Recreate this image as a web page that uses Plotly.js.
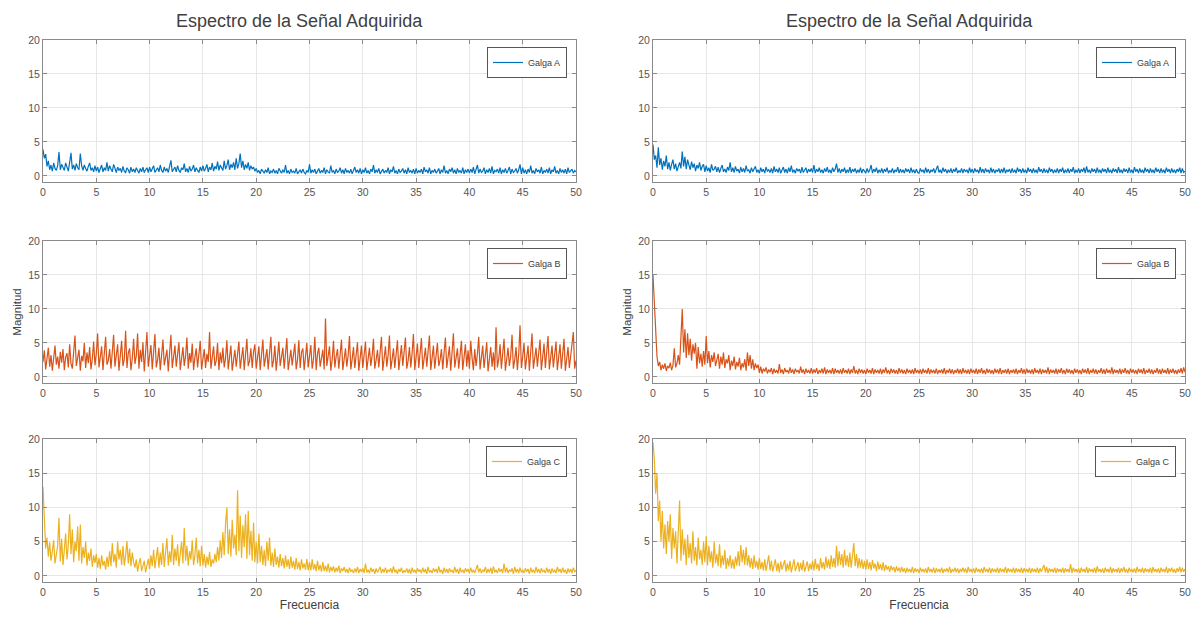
<!DOCTYPE html>
<html>
<head>
<meta charset="utf-8">
<script src="https://cdn.plot.ly/plotly-3.0.1.min.js"></script>
<style>
  html, body { margin: 0; padding: 0; background: #ffffff; }
  #chart { width: 1199px; height: 622px; }
</style>
</head>
<body>
<div id="chart"></div>
<script>
// Spectrum magnitude per strain gauge, 0 to 50 Hz, one value every 0.125 Hz.
const fMax = 50;

// Left column: Galga A / B / C
const gaugeA_left = [
  3.9, 2.6, 3.2, 1.4, 2.2, 0.9, 1.6, 0.7, 1.9, 1.1, 0.8, 1.5, 3.5, 0.9, 1.7, 1.2, 0.8, 1.9, 1.3, 0.7,
  2.0, 3.4, 1.0, 1.6, 0.8, 1.8, 1.2, 0.9, 3.3, 1.5, 0.8, 1.6, 1.1, 0.7, 1.4, 1.9, 0.8, 1.2, 0.6, 1.5,
  0.7, 1.3, 0.5, 1.1, 1.6, 0.6, 1.2, 0.8, 2.0, 0.7, 1.5, 1.0, 0.6, 1.7, 0.9, 0.5, 1.3, 0.8, 1.1, 0.5,
  1.4, 0.7, 0.5, 1.2, 0.9, 0.4, 1.3, 0.6, 1.0, 0.5, 1.2, 0.8, 0.4, 1.1, 0.6, 1.3, 0.5, 0.9, 1.2, 0.5,
  1.3, 0.6, 1.0, 1.5, 0.5, 0.9, 1.2, 0.6, 1.6, 0.8, 0.5, 1.3, 0.7, 1.1, 0.5, 1.4, 2.3, 0.6, 1.0, 1.3,
  0.6, 1.5, 0.8, 0.5, 1.2, 0.9, 1.8, 0.6, 1.1, 0.5, 1.4, 0.7, 1.0, 1.6, 0.6, 1.2, 0.8, 0.5, 1.3, 0.7,
  1.5, 0.7, 1.1, 1.7, 0.6, 1.3, 0.9, 1.9, 0.7, 1.4, 1.0, 2.1, 0.8, 1.6, 1.2, 0.8, 2.2, 1.0, 1.5, 2.4,
  0.9, 1.7, 1.2, 2.0, 0.9, 2.6, 1.1, 1.8, 3.3, 1.2, 2.2, 0.9, 1.7, 1.1, 2.0, 0.8, 1.5, 1.0, 1.3, 0.7,
  1.1, 0.5, 0.8, 0.3, 1.0, 0.6, 0.4, 0.9, 0.5, 1.2, 0.3, 0.7, 0.5, 1.0, 0.4, 0.8, 0.3, 1.1, 0.6, 0.4,
  0.9, 0.5, 1.6, 0.4, 0.8, 0.3, 1.0, 0.5, 0.7, 0.4, 1.1, 0.3, 0.6, 0.9, 0.4, 1.0, 0.5, 0.3, 0.8, 0.5,
  1.7, 0.4, 0.9, 0.5, 1.0, 0.3, 0.7, 1.1, 0.4, 0.8, 0.5, 1.2, 0.3, 0.9, 0.6, 0.4, 1.5, 0.5, 0.8, 0.3,
  1.0, 0.5, 0.7, 1.2, 0.4, 0.9, 0.3, 1.1, 0.5, 0.8, 0.4, 1.0, 0.3, 0.7, 1.3, 0.5, 0.9, 0.4, 1.1, 0.3,
  0.9, 0.5, 1.2, 0.4, 0.8, 0.3, 1.0, 0.6, 1.6, 0.4, 0.9, 0.5, 1.1, 0.3, 0.7, 1.0, 0.4, 0.8, 0.5, 1.2,
  0.3, 0.9, 0.6, 1.4, 0.4, 0.8, 0.3, 1.0, 0.5, 0.7, 1.1, 0.4, 0.9, 0.3, 1.2, 0.5, 0.8, 0.4, 1.0, 0.3,
  1.1, 0.4, 0.8, 0.5, 1.0, 0.3, 1.3, 0.6, 0.9, 0.4, 1.2, 0.3, 0.8, 0.5, 1.0, 0.4, 0.7, 1.1, 0.3, 0.9,
  0.5, 1.5, 0.4, 0.8, 0.3, 1.0, 0.6, 1.2, 0.4, 0.9, 0.3, 1.1, 0.5, 0.8, 0.4, 1.2, 0.3, 0.9, 0.5, 1.0,
  0.4, 1.0, 0.5, 1.3, 0.3, 0.8, 1.6, 0.4, 1.0, 0.5, 0.7, 1.2, 0.3, 0.9, 0.5, 1.1, 0.4, 1.4, 0.3, 0.8,
  0.6, 1.0, 0.4, 1.2, 0.3, 0.9, 0.5, 1.1, 0.4, 0.8, 1.3, 0.3, 1.0, 0.5, 0.7, 1.1, 0.4, 0.9, 1.7, 0.3,
  1.2, 0.4, 0.9, 0.3, 1.0, 0.5, 1.5, 0.4, 0.8, 0.3, 1.1, 0.6, 0.9, 0.4, 1.3, 0.3, 0.8, 0.5, 1.0, 0.4,
  1.2, 0.3, 0.9, 0.6, 1.4, 0.4, 0.8, 0.3, 1.1, 0.5, 0.9, 0.4, 1.0, 0.3, 1.2, 0.5, 0.7, 1.0, 0.4, 0.8,
  0.6
];
const gaugeB_left = [
  2.2, 3.9, 1.1, 2.8, 4.3, 1.5, 3.2, 0.9, 2.5, 4.6, 1.8, 3.0, 1.2, 3.7, 2.1, 4.1, 1.0, 2.9, 3.5, 1.4,
  4.8, 2.0, 1.2, 3.3, 6.1, 1.6, 2.7, 4.0, 0.9, 3.1, 2.3, 5.0, 1.3, 3.6, 2.0, 4.4, 1.1, 2.6, 5.2, 1.7,
  3.4, 6.4, 1.4, 2.8, 4.5, 1.0, 3.2, 5.9, 1.8, 2.4, 4.1, 1.2, 3.7, 6.2, 1.5, 2.9, 4.8, 0.9, 3.0, 5.3,
  1.6, 2.6, 6.8, 1.3, 3.5, 4.2, 1.0, 2.7, 5.6, 1.9, 3.1, 6.4, 1.2, 4.0, 2.2, 5.1, 0.8, 3.3, 6.6, 1.5,
  2.9, 4.7, 1.1, 3.6, 6.3, 1.4, 2.5, 4.3, 1.0, 3.2, 5.5, 1.7, 2.8, 4.0, 0.8, 3.4, 6.2, 1.3, 2.6, 4.6,
  1.5, 3.9, 5.1, 1.0, 2.7, 4.4, 1.6, 3.1, 5.8, 1.2, 3.5, 2.1, 4.9, 1.0, 2.9, 4.2, 1.4, 3.3, 5.3, 1.1,
  2.6, 4.1, 1.3, 3.4, 2.2, 6.6, 1.2, 3.0, 4.5, 1.6, 2.4, 5.0, 1.0, 3.6, 2.0, 4.3, 1.4, 2.8, 5.4, 1.1,
  3.2, 4.6, 0.9, 2.7, 4.0, 1.5, 3.5, 5.2, 1.2, 2.5, 4.4, 1.0, 3.1, 5.6, 1.6, 2.3, 4.2, 1.3, 3.7, 4.8,
  1.2, 2.9, 4.5, 1.0, 3.3, 5.5, 1.5, 2.6, 4.1, 1.1, 3.8, 5.9, 1.4, 2.4, 4.6, 0.9, 3.0, 5.2, 1.6, 2.8,
  4.3, 1.2, 3.5, 5.7, 1.0, 2.7, 4.0, 1.7, 3.2, 4.9, 1.1, 2.5, 5.4, 1.3, 3.6, 4.2, 1.0, 2.9, 5.0, 1.4,
  3.1, 4.7, 1.2, 2.6, 5.9, 1.0, 3.4, 4.3, 1.5, 2.8, 4.0, 1.1, 8.6, 1.6, 3.3, 4.5, 0.9, 2.5, 5.3, 1.4,
  3.0, 4.1, 1.2, 3.6, 5.5, 1.0, 2.7, 4.2, 1.5, 3.2, 6.0, 1.1, 2.6, 4.4, 1.3, 3.5, 5.1, 0.9, 2.9, 4.6,
  1.3, 3.4, 5.2, 1.0, 2.7, 4.3, 1.6, 3.1, 5.6, 1.2, 2.5, 4.0, 1.4, 3.6, 5.9, 0.9, 2.8, 4.5, 1.5, 3.2,
  6.1, 1.1, 2.6, 4.2, 1.3, 3.7, 5.4, 1.0, 2.9, 4.7, 1.6, 3.3, 5.8, 1.2, 2.4, 4.4, 1.4, 3.5, 6.3, 1.0,
  2.7, 4.9, 1.3, 3.4, 5.7, 1.1, 2.6, 4.3, 1.5, 3.8, 6.1, 1.0, 2.9, 4.6, 1.2, 3.2, 5.0, 1.6, 2.5, 4.1,
  1.1, 3.6, 5.8, 1.3, 2.8, 4.5, 0.9, 3.3, 6.4, 1.4, 2.7, 4.2, 1.2, 3.5, 5.3, 1.0, 2.6, 4.8, 1.5, 3.9,
  1.2, 5.3, 2.8, 1.0, 4.1, 1.6, 3.4, 5.9, 1.1, 2.7, 4.6, 1.3, 3.2, 5.1, 0.8, 2.9, 4.4, 1.5, 3.6, 1.0,
  7.3, 1.4, 2.6, 4.8, 1.2, 3.5, 5.6, 0.9, 2.8, 4.3, 1.6, 3.1, 6.2, 1.2, 2.5, 4.4, 1.0, 3.3, 7.6, 1.3,
  3.0, 5.0, 1.1, 2.7, 4.6, 0.9, 3.4, 6.4, 1.2, 2.6, 4.3, 1.5, 3.2, 5.5, 1.0, 2.8, 4.9, 1.3, 3.6, 6.0,
  1.1, 2.5, 4.6, 1.4, 3.1, 5.2, 1.0, 2.9, 4.8, 1.2, 3.5, 5.6, 0.9, 2.7, 4.4, 1.3, 3.3, 5.1, 6.6, 1.2,
  2.4
];
const gaugeC_left = [
  13.0, 9.5, 4.0, 5.6, 2.8, 4.9, 2.2, 3.6, 5.2, 1.8, 3.0, 4.4, 8.5, 2.1, 5.4, 1.6, 3.8, 6.2, 2.4, 4.6,
  9.0, 3.2, 6.8, 2.0, 5.0, 3.6, 7.2, 2.2, 7.5, 1.8, 4.2, 2.6, 5.0, 1.5, 3.4, 2.2, 4.0, 1.3, 3.0, 1.9,
  3.2, 1.2, 2.6, 1.0, 3.0, 1.5, 2.2, 0.9, 2.8, 1.3, 3.6, 1.4, 4.8, 2.0, 3.2, 1.2, 5.0, 2.4, 3.8, 1.6,
  4.4, 1.5, 3.0, 5.1, 1.8, 4.0, 1.4, 3.4, 2.0, 1.2, 2.4, 0.6, 1.8, 2.6, 0.7, 1.4, 2.2, 0.5, 1.6, 2.5,
  1.0, 3.0, 1.4, 3.8, 1.1, 2.6, 4.2, 1.2, 3.4, 1.6, 4.8, 1.3, 3.0, 5.5, 1.5, 3.6, 2.0, 6.0, 1.6, 4.0,
  2.2, 4.6, 1.4, 3.2, 5.0, 1.8, 7.0, 2.2, 4.4, 1.5, 3.6, 2.4, 5.2, 1.6, 3.0, 5.6, 1.8, 3.8, 1.4, 4.4,
  1.5, 3.2, 1.2, 2.8, 1.6, 3.5, 1.3, 2.4, 1.8, 3.2, 2.0, 4.2, 2.2, 5.2, 2.6, 6.4, 3.0, 7.6, 10.0, 3.2,
  6.8, 2.8, 8.2, 4.0, 6.0, 3.0, 12.5, 3.6, 8.8, 2.6, 7.4, 4.2, 9.0, 2.5, 9.5, 3.0, 6.6, 2.2, 7.8, 2.0,
  5.0, 1.8, 6.2, 2.0, 4.4, 1.6, 3.8, 1.4, 5.0, 2.2, 5.6, 1.5, 3.4, 1.3, 4.0, 1.6, 2.8, 1.2, 3.2, 1.4,
  2.6, 1.1, 3.0, 1.3, 2.4, 1.0, 2.8, 1.2, 2.2, 0.9, 2.6, 1.0, 2.0, 0.8, 2.4, 1.1, 1.8, 0.9, 2.5, 0.8,
  2.0, 0.8, 2.4, 0.9, 1.7, 0.7, 2.2, 0.8, 1.6, 0.6, 2.0, 0.7, 1.5, 0.6, 1.8, 0.5, 1.3, 0.7, 1.4, 0.5,
  1.2, 0.6, 1.5, 0.4, 1.1, 0.7, 1.3, 0.5, 1.0, 0.4, 1.2, 0.6, 0.9, 0.4, 1.1, 0.5, 1.3, 0.4, 1.0, 0.6,
  1.1, 0.4, 1.8, 0.5, 0.9, 0.4, 1.2, 0.6, 1.0, 0.3, 1.1, 0.5, 0.8, 1.3, 0.4, 1.0, 0.5, 1.2, 0.4, 0.9,
  0.6, 1.1, 0.4, 1.4, 0.5, 0.9, 0.3, 1.0, 0.6, 1.2, 0.4, 0.8, 0.5, 1.1, 0.4, 1.0, 0.3, 1.2, 0.5, 0.9,
  0.4, 1.1, 0.6, 0.9, 0.4, 1.2, 0.5, 1.0, 0.3, 1.3, 0.5, 0.8, 0.4, 1.1, 0.6, 1.0, 0.4, 1.4, 0.5, 0.9,
  0.3, 1.2, 0.5, 1.0, 0.4, 1.1, 0.6, 0.8, 0.4, 1.3, 0.5, 1.0, 0.3, 1.2, 0.5, 0.9, 0.4, 1.1, 0.6, 1.0,
  0.4, 1.2, 0.5, 0.9, 0.4, 1.0, 1.6, 0.5, 1.1, 0.4, 0.9, 0.6, 1.3, 0.4, 1.0, 0.5, 1.2, 0.3, 1.4, 0.5,
  0.9, 0.4, 1.1, 0.6, 1.0, 0.4, 1.8, 0.5, 1.2, 0.4, 0.9, 0.6, 1.1, 0.3, 1.3, 0.5, 1.0, 0.4, 1.2, 0.5,
  0.9, 0.4, 1.1, 0.6, 1.0, 0.3, 1.2, 0.5, 0.9, 0.4, 1.3, 0.5, 1.0, 0.4, 1.1, 0.6, 0.8, 0.4, 1.2, 0.5,
  1.0, 0.3, 1.1, 0.5, 0.9, 0.4, 1.3, 0.6, 1.0, 0.4, 1.2, 0.5, 0.9, 0.3, 1.1, 0.5, 1.0, 0.4, 1.2, 0.6,
  0.8
];

// Right column: Galga A / B / C
const gaugeA_right = [
  4.6, 2.4, 3.0, 1.2, 4.2, 1.6, 2.6, 0.9, 2.2, 1.4, 3.0, 1.0, 2.0, 0.8, 1.7, 2.4, 1.0, 1.8, 0.7, 1.5,
  2.0, 1.1, 3.6, 1.4, 2.8, 1.0, 2.4, 1.6, 0.9, 2.1, 1.2, 1.8, 0.7, 1.6, 1.1, 2.0, 0.8, 1.4, 1.7, 0.6,
  1.5, 0.7, 1.2, 0.5, 1.7, 0.8, 1.0, 1.4, 0.6, 1.3, 0.5, 1.1, 1.6, 0.6, 1.0, 0.5, 1.3, 0.8, 2.0, 0.6,
  1.2, 0.5, 1.4, 0.7, 1.0, 0.4, 1.3, 0.6, 1.1, 0.5, 1.5, 0.7, 0.9, 0.4, 1.2, 0.6, 1.0, 1.4, 0.5, 0.9,
  0.4, 1.2, 0.6, 1.0, 0.4, 1.3, 0.7, 0.9, 0.5, 1.1, 0.4, 1.4, 0.6, 1.0, 0.5, 1.2, 0.4, 0.9, 1.3, 0.5,
  1.0, 0.4, 1.2, 0.6, 1.5, 0.5, 0.9, 0.4, 1.1, 0.7, 1.0, 0.4, 1.3, 0.5, 0.9, 1.2, 0.4, 1.0, 0.6, 1.1,
  0.5, 1.6, 0.4, 1.0, 0.6, 1.2, 0.5, 0.9, 0.4, 1.1, 0.6, 1.3, 0.5, 0.9, 0.4, 1.2, 0.6, 1.0, 1.8, 0.5,
  1.1, 0.4, 1.0, 0.6, 1.2, 0.4, 0.9, 0.5, 1.3, 0.4, 1.0, 0.6, 1.1, 0.4, 0.9, 0.5, 1.2, 0.4, 1.0, 0.6,
  0.4, 1.1, 0.5, 0.9, 1.6, 0.4, 1.0, 0.6, 1.2, 0.4, 0.9, 0.5, 1.1, 0.4, 1.0, 0.6, 1.2, 0.4, 0.8, 0.5,
  1.1, 0.4, 0.9, 0.6, 1.3, 0.4, 1.0, 0.5, 0.9, 0.4, 1.1, 0.6, 1.0, 0.4, 1.2, 0.5, 0.9, 0.4, 1.0, 0.5,
  0.4, 1.1, 0.6, 0.9, 0.4, 1.2, 0.5, 1.0, 0.4, 0.9, 0.6, 1.1, 0.4, 1.0, 1.5, 0.5, 0.9, 0.4, 1.2, 0.6,
  1.0, 0.4, 0.9, 0.5, 1.1, 0.4, 1.0, 0.6, 1.2, 0.4, 0.8, 0.5, 1.1, 0.4, 1.0, 0.6, 0.9, 0.4, 1.2, 0.5,
  1.0, 0.4, 1.1, 0.6, 0.9, 0.4, 1.3, 0.5, 1.0, 0.4, 1.1, 0.6, 0.9, 0.4, 1.2, 0.5, 1.0, 0.4, 0.9, 0.6,
  1.1, 0.4, 1.0, 0.5, 1.2, 0.4, 0.9, 0.6, 1.0, 0.4, 1.1, 0.5, 0.9, 0.4, 1.2, 0.6, 1.0, 0.4, 1.1, 0.5,
  0.9, 0.4, 1.2, 0.6, 1.0, 0.4, 1.1, 0.5, 0.9, 0.4, 1.3, 0.6, 1.0, 0.4, 1.1, 0.5, 0.9, 0.4, 1.2, 0.6,
  1.0, 0.4, 0.9, 0.5, 1.1, 0.4, 1.0, 0.6, 1.2, 0.4, 0.9, 0.5, 1.1, 0.4, 1.0, 0.6, 1.3, 0.4, 0.9, 0.5,
  1.1, 0.4, 1.0, 0.6, 1.2, 0.4, 1.4, 0.5, 0.9, 0.4, 1.1, 0.6, 1.0, 0.4, 1.2, 0.5, 0.9, 0.4, 1.1, 0.6,
  1.0, 0.4, 1.2, 0.5, 0.9, 0.4, 1.1, 0.6, 1.0, 0.4, 1.3, 0.5, 0.9, 0.4, 1.1, 0.6, 1.0, 0.4, 1.2, 0.5,
  0.9, 0.4, 1.3, 0.6, 1.0, 0.4, 1.1, 0.5, 0.9, 0.4, 1.2, 0.6, 1.0, 0.4, 1.1, 0.5, 0.9, 0.4, 1.2, 0.6,
  1.0, 0.4, 1.1, 0.5, 0.9, 0.4, 1.2, 0.6, 1.0, 0.4, 1.1, 0.5, 0.9, 0.4, 1.0, 0.6, 1.2, 0.4, 1.1, 0.5,
  0.7
];
const gaugeB_right = [
  15.0, 11.0, 6.5, 3.0, 1.6, 2.2, 1.0, 1.8, 1.2, 2.0, 0.9, 1.6, 1.3, 2.1, 1.0, 1.7, 4.2, 1.4, 2.0, 3.2,
  1.8, 5.5, 10.0, 3.6, 7.0, 2.8, 6.4, 3.2, 5.6, 2.4, 4.8, 3.4, 5.0, 1.2, 4.4, 2.0, 3.4, 1.5, 3.8, 1.8,
  6.0, 2.0, 3.8, 1.4, 3.2, 2.2, 3.6, 1.6, 2.8, 3.4, 1.2, 3.0, 1.8, 3.6, 1.3, 2.6, 2.0, 3.2, 1.0, 2.4,
  1.6, 3.0, 1.1, 2.2, 1.5, 2.8, 1.0, 2.0, 1.4, 2.6, 0.9, 3.6, 1.6, 3.2, 1.2, 2.6, 1.0, 2.0, 1.3, 1.8,
  0.6, 1.5, 0.5, 1.2, 0.8, 1.4, 0.5, 1.1, 0.7, 1.3, 0.4, 1.2, 0.6, 1.0, 0.5, 1.9, 0.6, 1.1, 0.4, 1.3,
  0.7, 1.0, 0.5, 1.4, 0.6, 1.1, 0.4, 1.2, 0.7, 1.0, 0.5, 1.5, 0.6, 1.1, 0.4, 1.2, 0.6, 1.0, 0.5, 1.3,
  0.5, 1.1, 0.6, 1.3, 0.4, 1.0, 0.6, 1.2, 0.5, 1.4, 0.4, 1.1, 0.6, 1.0, 0.5, 1.3, 0.4, 1.2, 0.6, 1.0,
  0.5, 1.1, 0.4, 1.3, 0.6, 1.0, 0.5, 1.2, 0.4, 1.1, 0.6, 1.6, 0.5, 1.0, 0.4, 1.2, 0.6, 1.1, 0.5, 1.0,
  0.4, 1.2, 0.6, 1.0, 0.5, 1.3, 0.4, 1.1, 0.6, 1.0, 0.5, 1.2, 0.4, 1.1, 0.6, 1.4, 0.5, 1.0, 0.4, 1.2,
  0.6, 1.1, 0.5, 1.0, 0.4, 1.3, 0.6, 1.1, 0.5, 1.0, 0.4, 1.2, 0.6, 1.0, 0.5, 1.1, 0.4, 1.3, 0.6, 1.0,
  0.5, 1.1, 0.4, 1.2, 0.6, 1.0, 0.5, 1.3, 0.4, 1.1, 0.6, 1.0, 0.5, 1.2, 0.4, 1.0, 0.6, 1.1, 0.5, 1.3,
  0.4, 1.0, 0.6, 1.2, 0.5, 1.1, 0.4, 1.0, 0.6, 1.2, 0.5, 1.1, 0.4, 1.3, 0.6, 1.0, 0.5, 1.1, 0.4, 1.2,
  0.6, 1.0, 0.5, 1.2, 0.4, 1.1, 0.6, 1.3, 0.5, 1.0, 0.4, 1.2, 0.6, 1.1, 0.5, 1.0, 0.4, 1.2, 0.6, 1.1,
  0.5, 1.3, 0.4, 1.0, 0.6, 1.1, 0.5, 1.2, 0.4, 1.0, 0.6, 1.1, 0.5, 1.2, 0.4, 1.0, 0.6, 1.3, 0.5, 1.1,
  0.4, 1.2, 0.6, 1.0, 0.5, 1.1, 0.4, 1.3, 0.6, 1.0, 0.5, 1.2, 0.4, 1.1, 0.6, 1.0, 0.5, 1.4, 0.4, 1.1,
  0.6, 1.0, 0.5, 1.2, 0.4, 1.1, 0.6, 1.3, 0.5, 1.0, 0.4, 1.2, 0.6, 1.1, 0.5, 1.0, 0.4, 1.2, 0.6, 1.1,
  0.5, 1.0, 0.4, 1.2, 0.6, 1.1, 0.5, 1.3, 0.4, 1.0, 0.6, 1.2, 0.5, 1.1, 0.4, 1.0, 0.6, 1.3, 0.5, 1.1,
  0.4, 1.2, 0.6, 1.0, 0.5, 1.4, 0.4, 1.1, 0.6, 1.0, 0.5, 1.2, 0.4, 1.1, 0.6, 1.3, 0.5, 1.0, 0.4, 1.2,
  0.6, 1.1, 0.5, 1.0, 0.4, 1.2, 0.6, 1.1, 0.5, 1.3, 0.4, 1.0, 0.6, 1.2, 0.5, 1.1, 0.4, 1.0, 0.6, 1.3,
  0.5, 1.1, 0.4, 1.2, 0.6, 1.0, 0.5, 1.3, 0.4, 1.1, 0.6, 1.2, 0.5, 1.0, 0.4, 1.1, 0.6, 1.3, 0.5, 1.4,
  0.7
];
const gaugeC_right = [
  19.5, 17.0, 12.0, 15.0, 8.0, 11.0, 5.0, 9.5, 4.0, 7.5, 3.2, 8.0, 5.0, 9.0, 2.5, 7.0, 4.0, 6.5, 1.8, 5.5,
  11.0, 2.2, 6.8, 3.0, 5.4, 1.6, 6.0, 2.6, 4.8, 1.8, 6.5, 2.2, 4.2, 1.5, 5.6, 2.4, 3.8, 1.6, 5.0, 2.0,
  5.8, 1.5, 4.4, 2.0, 3.6, 1.2, 5.0, 1.8, 3.2, 1.4, 4.6, 1.2, 3.0, 1.6, 3.8, 1.0, 2.6, 1.4, 3.0, 1.1,
  2.4, 1.0, 2.8, 1.5, 3.6, 1.4, 4.5, 2.0, 3.8, 1.6, 4.2, 1.5, 3.0, 1.2, 2.6, 1.0, 3.0, 1.2, 2.2, 0.9,
  2.6, 1.0, 2.0, 0.8, 2.4, 0.7, 1.8, 3.0, 0.8, 2.2, 0.6, 1.6, 2.4, 0.7, 1.9, 0.5, 2.1, 0.9, 1.6, 2.3,
  0.6, 1.8, 0.8, 2.2, 0.5, 1.7, 2.4, 0.7, 1.5, 2.0, 0.6, 1.9, 0.8, 2.3, 0.6, 1.6, 2.1, 0.7, 1.8, 0.9,
  2.2, 0.8, 2.5, 1.0, 1.8, 0.7, 2.6, 1.1, 2.0, 0.9, 2.8, 1.2, 2.4, 1.0, 3.0, 1.3, 2.6, 1.2, 4.4, 1.4,
  3.6, 1.6, 3.2, 1.2, 3.8, 1.5, 3.0, 1.3, 3.4, 1.2, 2.8, 4.8, 1.4, 3.2, 1.1, 2.6, 1.2, 2.4, 1.0, 2.2,
  0.9, 2.4, 1.0, 2.0, 0.8, 2.3, 1.1, 1.8, 0.7, 2.1, 0.9, 1.7, 0.8, 2.0, 0.7, 1.6, 0.9, 1.4, 0.6, 1.5,
  0.8, 1.3, 0.5, 1.4, 0.7, 1.2, 0.5, 1.3, 0.6, 1.1, 0.4, 1.2, 0.6, 1.0, 0.5, 1.3, 0.4, 1.1, 0.6, 1.0,
  0.4, 1.2, 0.6, 1.0, 0.5, 1.1, 0.4, 1.3, 0.6, 1.0, 0.5, 1.2, 0.4, 1.1, 0.6, 1.0, 0.5, 1.2, 0.4, 1.0,
  0.6, 1.1, 0.5, 1.3, 0.4, 1.0, 0.6, 1.2, 0.5, 1.1, 0.4, 1.0, 0.6, 1.2, 0.5, 1.1, 0.4, 1.3, 0.6, 1.0,
  0.5, 1.1, 0.4, 1.2, 0.6, 1.0, 0.5, 1.1, 0.4, 1.3, 0.6, 1.0, 0.5, 1.2, 0.4, 1.1, 0.6, 1.0, 0.5, 1.2,
  0.4, 1.1, 0.6, 1.0, 0.5, 1.3, 0.4, 1.1, 0.6, 1.0, 0.5, 1.2, 0.4, 1.1, 0.6, 1.0, 0.5, 1.2, 0.4, 1.1,
  0.6, 1.0, 0.5, 1.2, 0.4, 1.1, 0.6, 1.0, 0.5, 1.2, 0.4, 1.1, 0.6, 1.0, 1.6, 0.5, 1.3, 0.4, 1.1, 0.6,
  1.0, 0.5, 1.2, 0.4, 1.1, 0.6, 1.0, 0.5, 1.2, 0.4, 1.1, 0.6, 1.0, 0.5, 1.7, 0.4, 1.2, 0.6, 1.0, 0.5,
  1.1, 0.4, 1.2, 0.6, 1.0, 0.5, 1.3, 0.4, 1.1, 0.6, 1.0, 0.5, 1.2, 0.4, 1.4, 0.6, 1.0, 0.5, 1.1, 0.4,
  1.2, 0.6, 1.0, 0.5, 1.3, 0.4, 1.1, 0.6, 1.0, 0.5, 1.2, 0.4, 1.1, 0.6, 1.3, 0.5, 1.0, 0.4, 1.2, 0.6,
  1.0, 0.5, 1.1, 0.4, 1.3, 0.6, 1.0, 0.5, 1.2, 0.4, 1.1, 0.6, 1.0, 0.5, 1.2, 0.4, 1.3, 0.6, 1.0, 0.5,
  1.1, 0.4, 1.2, 0.6, 1.0, 0.5, 1.3, 0.4, 1.1, 0.6, 1.2, 0.5, 1.0, 0.4, 1.1, 0.6, 1.3, 0.5, 1.2, 0.6,
  1.0
];

const seriesNames = ['Galga A', 'Galga B', 'Galga C'];
const seriesColors = ['#0072BD', '#D95319', '#EDB120'];
const xTicks = [0, 5, 10, 15, 20, 25, 30, 35, 40, 45, 50];
const yTicks = [0, 5, 10, 15, 20];
const panelTitle = 'Espectro de la Señal Adquirida';
const xLabel = 'Frecuencia';
const yLabel = 'Magnitud';

// Evenly spaced frequency bins spanning 0..fMax for a spectrum array
function freqAxis(values) {
  return values.map((_, i) => i * fMax / (values.length - 1));
}

// Panel order: row-major, left then right
const panels = [
  { y: gaugeA_left,  s: 0 }, { y: gaugeA_right, s: 0 },
  { y: gaugeB_left,  s: 1 }, { y: gaugeB_right, s: 1 },
  { y: gaugeC_left,  s: 2 }, { y: gaugeC_right, s: 2 }
];

const W = 1199, H = 622;
const colX = [[43, 576], [653, 1185]];
const rowY = [[40, 182], [241, 383], [439, 582]];

const FONT = 'Liberation Sans, Arial, sans-serif';
const traces = [];
const layout = {
  width: W, height: H,
  margin: { l: 0, r: 0, t: 0, b: 0 },
  paper_bgcolor: '#ffffff',
  plot_bgcolor: '#ffffff',
  font: { family: FONT, color: '#404040', size: 11 },
  annotations: [],
  showlegend: true
};

panels.forEach((p, k) => {
  const row = Math.floor(k / 2), col = k % 2;
  const n = k + 1;
  const xa = n === 1 ? 'x' : 'x' + n;
  const ya = n === 1 ? 'y' : 'y' + n;
  const lg = n === 1 ? 'legend' : 'legend' + n;
  traces.push({
    type: 'scatter', mode: 'lines',
    x: freqAxis(p.y), y: p.y,
    xaxis: xa, yaxis: ya,
    name: seriesNames[p.s],
    legend: lg,
    line: { color: seriesColors[p.s], width: 1.2 },
    hoverinfo: 'x+y'
  });
  const axCommon = {
    showline: true, linecolor: '#8a8a8a', linewidth: 1, mirror: 'ticks',
    ticks: 'inside', ticklen: 4, tickcolor: '#8a8a8a', tickwidth: 1,
    showgrid: true, gridcolor: '#e6e6e6', gridwidth: 1,
    zeroline: false,
    tickfont: { family: FONT, size: 10.5, color: '#555555' }
  };
  layout['xaxis' + (n === 1 ? '' : n)] = Object.assign({}, axCommon, {
    domain: [colX[col][0] / W, colX[col][1] / W],
    anchor: ya,
    range: [0, 50],
    tickvals: xTicks,
    title: row === 2 ? { text: xLabel, font: { family: FONT, size: 12, color: '#404040' }, standoff: 2 } : { text: '' }
  });
  layout['yaxis' + (n === 1 ? '' : n)] = Object.assign({}, axCommon, {
    domain: [1 - rowY[row][1] / H, 1 - rowY[row][0] / H],
    anchor: xa,
    range: [-0.9, 20],
    tickvals: yTicks,
    title: row === 1 ? { text: yLabel, font: { family: FONT, size: 11.5, color: '#404040' }, standoff: 4 } : { text: '' }
  });
  layout[lg] = {
    x: (colX[col][1] - 9) / W, xanchor: 'right', xref: 'paper',
    y: 1 - (rowY[row][0] + 7) / H, yanchor: 'top', yref: 'paper',
    bgcolor: '#ffffff', bordercolor: '#555555', borderwidth: 1,
    font: { family: FONT, size: 9, color: '#404040' },
    itemwidth: 30
  };
});

// Column titles
[0, 1].forEach(col => {
  layout.annotations.push({
    text: panelTitle, showarrow: false,
    xref: 'paper', yref: 'paper',
    x: ((colX[col][0] + colX[col][1]) / 2 - 10) / W, y: 1 - 21 / H,
    xanchor: 'center', yanchor: 'middle',
    font: { family: FONT, size: 18, color: '#404040' }
  });
});

Plotly.newPlot('chart', traces, layout, { displayModeBar: false, staticPlot: true });
</script>
</body>
</html>
